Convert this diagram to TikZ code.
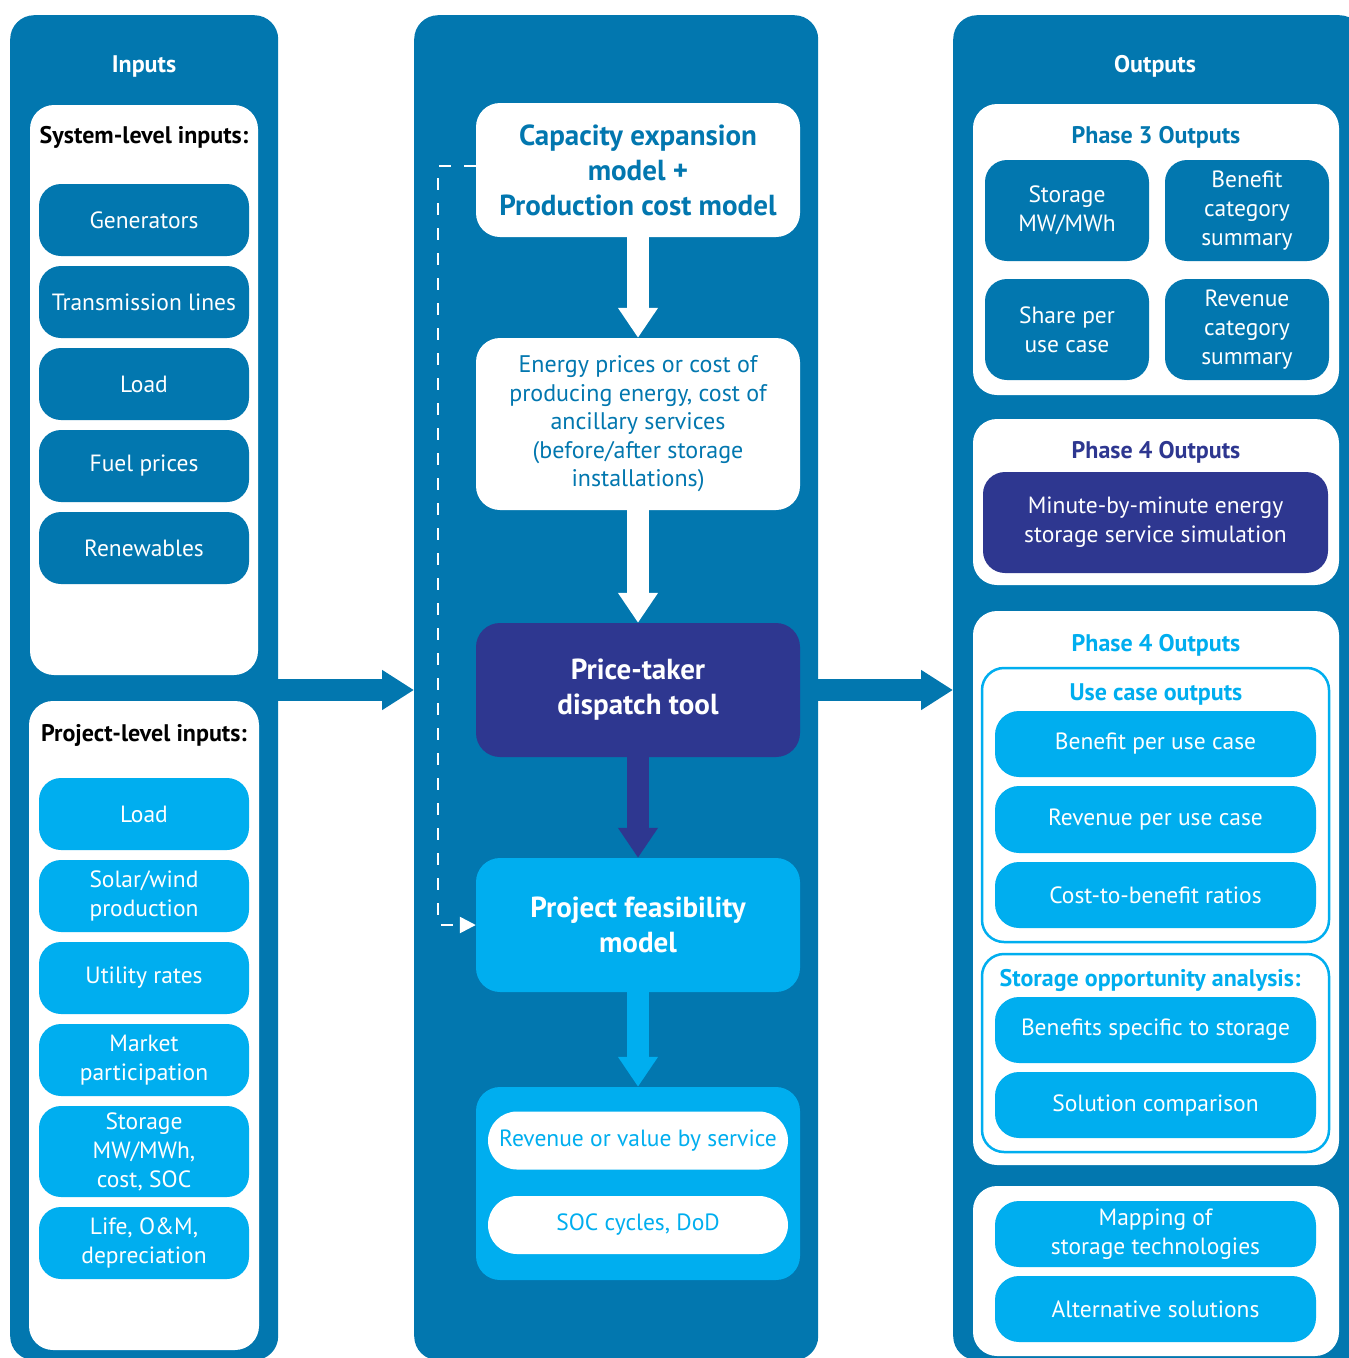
\documentclass[tikz,border=0pt]{standalone}
\usepackage{fontspec}
\setmainfont{PT Sans}
\usetikzlibrary{arrows.meta}

\definecolor{colblue}{HTML}{0277AF}
\definecolor{skyblue}{HTML}{00AEEF}
\definecolor{navyblue}{HTML}{2E3790}

\newcommand{\boxtext}{\fontsize{23.5}{29}\selectfont}
\newcommand{\headtext}{\fontsize{24}{28}\selectfont\bfseries}
\newcommand{\bigtext}{\fontsize{29}{35}\selectfont\bfseries}

\tikzset{
  column/.style={fill=colblue, rounded corners=24pt, inner sep=0pt, anchor=north west},
  panel/.style={fill=white, rounded corners=24pt, inner sep=0pt},
  frame/.style={draw=skyblue, line width=2.5pt, fill=white, rounded corners=22pt, inner sep=0pt},
  inbox/.style={rounded corners=22pt, minimum width=210pt, minimum height=72pt,
    inner sep=0pt, align=center, text=white, font=\boxtext},
  outbox/.style={rounded corners=24pt, minimum width=321pt, minimum height=66pt,
    inner sep=0pt, align=center, text=white, fill=skyblue, font=\boxtext},
  model/.style={rounded corners=24pt, minimum width=324pt, minimum height=134pt,
    inner sep=0pt, align=center, font=\bigtext},
  pill/.style={fill=white, rounded corners=29pt, minimum width=300pt, minimum height=58pt,
    inner sep=0pt, text=skyblue, font=\boxtext},
  fat/.style={line width=22pt, -{Triangle[width=38pt,length=30pt]}},
  wide/.style={colblue, line width=22pt, -{Triangle[width=38pt,length=32pt]}}
}

\begin{document}
\begin{tikzpicture}[x=1pt, y=-1pt]
  \useasboundingbox (0,0) rectangle (1349,1358);
  \clip (0,0) rectangle (1349,1358);

  % Columns
  \node[column, minimum width=268pt, minimum height=1345pt] (incol) at (10,15) {};
  \node[column, minimum width=404pt, minimum height=1345pt] (midcol) at (414,15) {};
  \node[column, minimum width=410pt, minimum height=1345pt] (outcol) at (953,15) {};

  \node[font=\headtext, text=white] (inhead) at (144,66) {Inputs};
  \node[font=\headtext, text=white] (outhead) at (1155,66) {Outputs};

  % System-level inputs
  \node[panel, minimum width=228pt, minimum height=570pt] (syspanel) at (144,390) {};
  \node[font=\headtext] (systitle) at (144,137) {System-level inputs:};
  \foreach \nm/\txt/\y in {gen/Generators/220, trans/Transmission lines/302,
      sysload/Load/384, fuel/Fuel prices/466, renew/Renewables/548}
    \node[inbox, fill=colblue] (\nm) at (144,\y) {\txt};

  % Project-level inputs
  \node[panel, minimum width=230pt, minimum height=649pt] (prjpanel) at (144,1025.5) {};
  \node[font=\headtext] (prjtitle) at (144,735) {Project-level inputs:};
  \node[inbox, fill=skyblue] (prjload) at (144,814) {Load};
  \node[inbox, fill=skyblue] (solar) at (144,896) {Solar/wind\\production};
  \node[inbox, fill=skyblue] (rates) at (144,978) {Utility rates};
  \node[inbox, fill=skyblue] (market) at (144,1060) {Market\\participation};
  \node[inbox, fill=skyblue, minimum height=91pt] (storin) at (144,1151.5) {Storage\\MW/MWh,\\cost, SOC};
  \node[inbox, fill=skyblue] (life) at (144,1243) {Life, O\&M,\\depreciation};

  % Models
  \node[model, fill=white, text=colblue] (cap) at (638,170) {Capacity expansion\\model +\\Production cost model};
  \node[model, fill=white, text=colblue, minimum height=172pt, font=\fontsize{24}{28.5}\selectfont] (energy) at (638,424)
    {Energy prices or cost of\\producing energy, cost of\\ancillary services\\(before/after storage\\installations)};
  \node[model, fill=navyblue, text=white] (price) at (638,690) {Price-taker\\dispatch tool};
  \node[model, fill=skyblue, text=white] (feas) at (638,925) {Project feasibility\\model};
  \node[model, fill=skyblue, minimum height=193pt] (result) at (638,1183.5) {};
  \node[pill] (revenue) at (638,1140.5) {Revenue or value by service};
  \node[pill] (soc) at (638,1225) {SOC cycles, DoD};

  \draw[fat, white] (cap) -- (energy);
  \draw[fat, white] (energy) -- (price);
  \draw[fat, navyblue] (price) -- (feas);
  \draw[fat, skyblue] (feas) -- (result);
  \draw[white, line width=2.5pt, dash pattern=on 12pt off 13pt, -{Triangle[width=16pt,length=16pt]}]
    ([yshift=4pt]cap.west) -- ++(-38,0) |- (feas.west);

  % Column arrows
  \draw[wide] (incol.east |- price) -- (midcol.west |- price);
  \draw[wide] (midcol.east |- price) -- (outcol.west |- price);

  % Phase 3 outputs
  \node[panel, minimum width=366pt, minimum height=291pt] (ph3) at (1156,249.5) {};
  \node[font=\headtext, text=colblue] (ph3title) at (1156,137) {Phase 3 Outputs};
  \node[inbox, fill=colblue, minimum width=164pt, minimum height=101pt] (stormw) at (1067,210.5) {Storage\\MW/MWh};
  \node[inbox, fill=colblue, minimum width=164pt, minimum height=101pt] (bencat) at (1247,210.5) {Benefit\\category\\summary};
  \node[inbox, fill=colblue, minimum width=164pt, minimum height=101pt] (share) at (1067,329.5) {Share per\\use case};
  \node[inbox, fill=colblue, minimum width=164pt, minimum height=101pt] (revcat) at (1247,329.5) {Revenue\\category\\summary};

  % Phase 4 outputs (simulation)
  \node[panel, minimum width=366pt, minimum height=166pt] (ph4a) at (1156,502) {};
  \node[font=\headtext, text=navyblue] (ph4atitle) at (1156,452) {Phase 4 Outputs};
  \node[inbox, fill=navyblue, minimum width=345pt, minimum height=101pt] (sim) at (1155.5,522.5)
    {Minute-by-minute energy\\storage service simulation};

  % Phase 4 outputs (use cases)
  \node[panel, minimum width=366pt, minimum height=554pt] (ph4b) at (1156,888) {};
  \node[font=\headtext, text=skyblue] (ph4btitle) at (1156,645) {Phase 4 Outputs};
  \node[frame, minimum width=347pt, minimum height=274pt] (usecase) at (1155.5,805) {};
  \node[font=\headtext, text=skyblue] (usetitle) at (1156,694) {Use case outputs};
  \node[outbox] (benuse) at (1155.5,744) {Benefit per use case};
  \node[outbox, minimum height=67pt] (revuse) at (1155.5,819.5) {Revenue per use case};
  \node[outbox] (ratio) at (1155.5,895) {Cost-to-benefit ratios};
  \node[frame, minimum width=347pt, minimum height=198pt] (opport) at (1155.5,1053) {};
  \node[font=\headtext, text=skyblue] (optitle) at (1150,980) {Storage opportunity analysis:};
  \node[outbox] (benstor) at (1155.5,1030) {Benefits specific to storage};
  \node[outbox] (solcomp) at (1155.5,1105) {Solution comparison};

  % Technologies
  \node[panel, minimum width=366pt, minimum height=170pt] (techpanel) at (1156,1271) {};
  \node[outbox] (mapping) at (1155.5,1234) {Mapping of\\storage technologies};
  \node[outbox] (altsol) at (1155.5,1309) {Alternative solutions};
\end{tikzpicture}
\end{document}
